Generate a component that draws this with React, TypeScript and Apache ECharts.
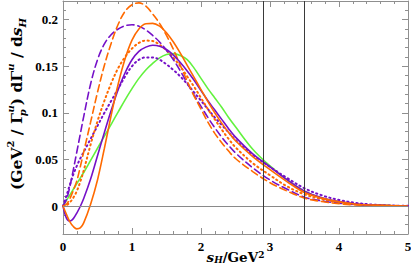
import React, { useEffect, useRef } from 'react';
import * as echarts from 'echarts';

const X = [0, 0.05, 0.1, 0.15, 0.2, 0.25, 0.3, 0.4, 0.5, 0.6, 0.7, 0.8, 0.9, 1.0, 1.1, 1.2, 1.3, 1.4, 1.5, 1.6, 1.7, 1.8, 1.9, 2.0, 2.1, 2.2, 2.3, 2.4, 2.5, 2.75, 3.0, 3.25, 3.5, 3.75, 4.0, 4.25, 4.5, 4.75, 5.0];

const orangeSolid = [0, -0.009, -0.017, -0.022, -0.0245, -0.0235, -0.018, 0.002, 0.028, 0.062, 0.098, 0.131, 0.158, 0.178, 0.19, 0.1955, 0.196, 0.193, 0.186, 0.176, 0.164, 0.151, 0.138, 0.125, 0.112, 0.1, 0.089, 0.079, 0.07, 0.053, 0.039, 0.026, 0.0145, 0.0085, 0.0045, 0.002, 0.001, 0.0004, 0.0001];
const purpleSolid = [0, -0.013, -0.0162, -0.0135, -0.0075, -0.0005, 0.008, 0.029, 0.054, 0.079, 0.103, 0.125, 0.143, 0.157, 0.166, 0.1705, 0.1725, 0.1715, 0.168, 0.162, 0.154, 0.145, 0.135, 0.124, 0.113, 0.103, 0.093, 0.083, 0.074, 0.056, 0.042, 0.028, 0.016, 0.009, 0.0048, 0.0022, 0.001, 0.0004, 0.0001];
const greenSolid = [0, 0.006, 0.012, 0.018, 0.024, 0.03, 0.036, 0.049, 0.062, 0.075, 0.088, 0.101, 0.114, 0.126, 0.137, 0.146, 0.153, 0.159, 0.1625, 0.1635, 0.1615, 0.157, 0.148, 0.137, 0.126, 0.116, 0.106, 0.095, 0.085, 0.061, 0.043, 0.028, 0.016, 0.0085, 0.0045, 0.002, 0.001, 0.0004, 0.0001];
const orangeDashed = [0, 0.002, 0.008, 0.017, 0.027, 0.042, 0.058, 0.09, 0.122, 0.151, 0.175, 0.195, 0.209, 0.216, 0.218, 0.2145, 0.206, 0.196, 0.183, 0.168, 0.151, 0.134, 0.118, 0.104, 0.09, 0.078, 0.068, 0.059, 0.051, 0.037, 0.025, 0.016, 0.0085, 0.0048, 0.0025, 0.0012, 0.0006, 0.0002, 0.0001];
const purpleDashed = [0, 0.007, 0.021, 0.039, 0.058, 0.077, 0.096, 0.131, 0.157, 0.174, 0.184, 0.19, 0.1935, 0.1945, 0.193, 0.189, 0.183, 0.176, 0.167, 0.157, 0.145, 0.132, 0.119, 0.107, 0.095, 0.084, 0.074, 0.065, 0.057, 0.041, 0.028, 0.018, 0.0095, 0.0055, 0.003, 0.0015, 0.0007, 0.0003, 0.0001];
const orangeDotted = [0, 0.001, 0.004, 0.009, 0.016, 0.026, 0.038, 0.066, 0.091, 0.113, 0.132, 0.148, 0.16, 0.169, 0.175, 0.1775, 0.177, 0.173, 0.167, 0.159, 0.15, 0.139, 0.128, 0.116, 0.104, 0.093, 0.082, 0.072, 0.063, 0.046, 0.033, 0.021, 0.0125, 0.0072, 0.0038, 0.0018, 0.0008, 0.0003, 0.0001];
const purpleDotted = [0, 0.011, 0.023, 0.034, 0.043, 0.051, 0.058, 0.072, 0.086, 0.1, 0.113, 0.126, 0.139, 0.15, 0.157, 0.1595, 0.1595, 0.157, 0.152, 0.146, 0.139, 0.131, 0.122, 0.113, 0.104, 0.095, 0.087, 0.079, 0.071, 0.055, 0.042, 0.03, 0.019, 0.0115, 0.0065, 0.0033, 0.0015, 0.0006, 0.0002];

const yTickValues = [0, 0.05, 0.1, 0.15, 0.2];
const yTickLabels = ['0', '0.05', '0.1', '0.15', '0.2'];
const verticalLines = [2.9, 3.5];

const ORANGE = '#ff6a00';
const PURPLE = '#7510c8';
const GREEN = '#62f23e';
const FRAME = '#8f8f8f';

const TICK_FONT = 'Liberation Serif';
const LABEL_FONT = 'DejaVu Serif';

function richSet(size: number, lh: number) {
  const base = { fontFamily: LABEL_FONT, fontWeight: 'bold', color: '#000' };
  const small = Math.round(size * 0.66);
  return {
    m: { ...base, fontSize: size, lineHeight: lh, verticalAlign: 'middle' },
    i: { ...base, fontStyle: 'italic', fontSize: size, lineHeight: lh, verticalAlign: 'middle' },
    sup: { ...base, fontSize: small, lineHeight: small + 2, verticalAlign: 'top' },
    supi: { ...base, fontStyle: 'italic', fontSize: small, lineHeight: small + 2, verticalAlign: 'top' },
    subi: { ...base, fontStyle: 'italic', fontSize: small, lineHeight: small, verticalAlign: 'bottom' },
    subw: { ...base, fontStyle: 'italic', fontSize: small, lineHeight: small, verticalAlign: 'bottom', width: 0.5 },
  };
}

const Y_NAME = '{m|(GeV}{sup|2}{m| / Γ}{subw|p}{supi|u}{m|) dΓ}{supi|u}{m| / d}{i|s}{subi|H}';
const X_NAME = '{i|s}{subi|H}{m|/GeV}{sup|2}';

function mk(vals: number[]) {
  return X.map((x, i) => [x, vals[i]]);
}

export default function App() {
  const ref = useRef<HTMLDivElement>(null);
  useEffect(() => {
    if (!ref.current) return;
    const chart = echarts.init(ref.current, null, { renderer: 'svg' });
    const tickStyle = { color: FRAME, width: 1 };
    const yFmt = (v: number) => {
      for (let k = 0; k < yTickValues.length; k++) {
        if (Math.abs(v - yTickValues[k]) < 1e-9) return yTickLabels[k];
      }
      return '';
    };
    const line = (name: string, vals: number[], color: string, type: any, width = 1.6, extra: any = {}) => ({
      type: 'line',
      name,
      data: mk(vals),
      showSymbol: false,
      symbol: 'none',
      smooth: 0.35,
      xAxisIndex: 0,
      yAxisIndex: 0,
      lineStyle: { color, width, type, cap: type === 'solid' ? 'butt' : 'round' },
      z: 3,
      ...extra,
    });
    chart.setOption({
      animation: false,
      grid: { left: 63, right: 3, top: 1, bottom: 35, outerBoundsMode: 'none', containLabel: false },
      xAxis: [
        {
          type: 'value', min: 0, max: 5, interval: 1, position: 'bottom',
          axisLine: { show: true, onZero: false, lineStyle: tickStyle },
          axisTick: { show: true, inside: true, length: 6, lineStyle: tickStyle },
          minorTick: { show: true, splitNumber: 5, length: 3, lineStyle: tickStyle },
          splitLine: { show: false },
          axisLabel: { margin: 6, fontFamily: TICK_FONT, fontWeight: 'bold', fontSize: 13, color: '#000' },
          name: X_NAME,
          nameLocation: 'middle',
          nameGap: 16,
          nameMoveOverlap: false,
          nameTextStyle: { rich: richSet(13.5, 14), verticalAlign: 'top' },
        },
        {
          type: 'value', min: 0, max: 5, interval: 1, position: 'top',
          axisLine: { show: true, onZero: false, lineStyle: tickStyle },
          axisTick: { show: true, inside: true, length: 6, lineStyle: tickStyle },
          minorTick: { show: true, splitNumber: 5, length: 3, lineStyle: tickStyle },
          splitLine: { show: false },
          axisLabel: { show: false },
        },
      ],
      yAxis: [
        {
          type: 'value', min: -0.03, max: 0.22, splitNumber: 5, position: 'left',
          axisLine: { show: true, onZero: false, lineStyle: tickStyle },
          axisTick: { show: true, inside: true, length: 6, lineStyle: tickStyle, customValues: yTickValues },
          splitLine: { show: false },
          axisLabel: { margin: 5, fontFamily: TICK_FONT, fontWeight: 'bold', fontSize: 13, color: '#000', formatter: yFmt, customValues: yTickValues },
        },
        {
          type: 'value', min: -0.03, max: 0.22, interval: 0.01, position: 'left',
          axisLine: { show: false, onZero: false },
          axisTick: { show: true, inside: true, length: 3, lineStyle: tickStyle },
          splitLine: { show: false },
          axisLabel: { show: false },
        },
        {
          type: 'value', min: -0.03, max: 0.22, splitNumber: 5, position: 'right',
          axisLine: { show: true, onZero: false, lineStyle: tickStyle },
          axisTick: { show: true, inside: true, length: 6, lineStyle: tickStyle, customValues: yTickValues },
          splitLine: { show: false },
          axisLabel: { show: false },
        },
        {
          type: 'value', min: -0.03, max: 0.22, interval: 0.01, position: 'right',
          axisLine: { show: false, onZero: false },
          axisTick: { show: true, inside: true, length: 3, lineStyle: tickStyle },
          splitLine: { show: false },
          axisLabel: { show: false },
        },
      ],
      graphic: [
        {
          type: 'text',
          x: 16,
          y: 104,
          rotation: Math.PI / 2,
          style: {
            text: Y_NAME,
            rich: richSet(15.5, 22),
            align: 'center',
            verticalAlign: 'middle',
            fill: '#000',
          },
        },
      ],
      series: [
        line('green', greenSolid, GREEN, 'solid', 1.6, {
          markLine: {
            silent: true,
            symbol: ['none', 'none'],
            label: { show: false },
            animation: false,
            data: [
              { yAxis: 0, lineStyle: { color: '#8a8a8a', width: 1, type: 'solid' } },
              ...verticalLines.map((v) => ({ xAxis: v, lineStyle: { color: '#3a3a3a', width: 1, type: 'solid' } })),
            ],
          },
        }),
        line('purpleDotted', purpleDotted, PURPLE, [1.2, 3.4], 2),
        line('orangeDotted', orangeDotted, ORANGE, [1.2, 3.4], 2),
        line('purpleDashed', purpleDashed, PURPLE, [7, 4], 1.6),
        line('orangeDashed', orangeDashed, ORANGE, [7, 4], 1.6),
        line('purpleSolid', purpleSolid, PURPLE, 'solid', 1.6),
        line('orangeSolid', orangeSolid, ORANGE, 'solid', 1.6),
      ],
    });
    return () => chart.dispose();
  }, []);
  return <div ref={ref} style={{ position: 'fixed', left: 0, top: 0, width: 411, height: 269, background: '#fff' }} />;
}
